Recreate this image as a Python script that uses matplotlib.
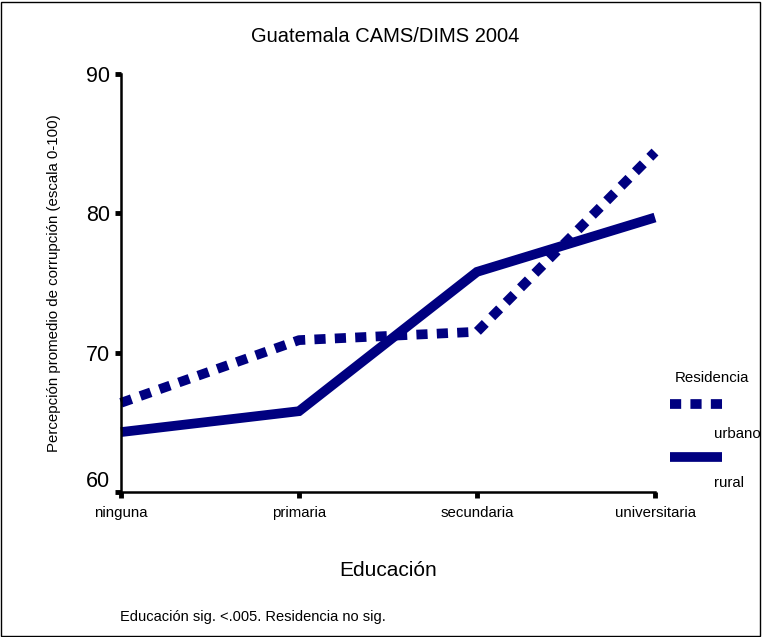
import matplotlib
matplotlib.use('Agg')
import matplotlib.pyplot as plt
from matplotlib.lines import Line2D
from matplotlib.patches import Rectangle

plt.rcParams['font.family'] = ['Liberation Sans', 'DejaVu Sans']

educacion = ['ninguna', 'primaria', 'secundaria', 'universitaria']
urbano = [66.4, 70.9, 71.5, 84.4]
rural = [64.3, 65.8, 75.8, 79.7]
yticks = [60, 70, 80, 90]

navy = '#000080'
W, H = 762, 637

fig = plt.figure(figsize=(W / 100, H / 100), dpi=100)
ax = fig.add_axes([121 / W, 1 - 492 / H, (655 - 121) / W, (492 - 74) / H])

x = list(range(len(educacion)))
dot = (0, (1.15, 0.95))
ax.plot(x, urbano, color=navy, lw=7, linestyle=dot, dash_capstyle='butt', solid_joinstyle='miter')
ax.plot(x, rural, color=navy, lw=7, solid_capstyle='butt', solid_joinstyle='miter')

ax.set_xlim(0, 3)
ax.set_ylim(60, 90)
ax.set_xticks(x)
ax.set_xticklabels(educacion, fontsize=10.8)
ax.set_yticks(yticks)
ax.set_yticklabels([str(v) for v in yticks], fontsize=15.5)
ax.tick_params(axis='both', direction='out', length=4, width=3.5, color='black')
ax.tick_params(axis='x', pad=6)
ax.tick_params(axis='y', pad=4)
ax.get_yticklabels()[0].set_va('bottom')
for s in ['top', 'right']:
    ax.spines[s].set_visible(False)
for s in ['left', 'bottom']:
    ax.spines[s].set_linewidth(1.8)
for ln in ax.lines:
    ln.set_clip_on(False)

ax.set_ylabel('Percepción promedio de corrupción (escala 0-100)', fontsize=10.8, labelpad=18)

fig.text(385 / W, 1 - 36 / H, 'Guatemala CAMS/DIMS 2004', ha='center', va='center', fontsize=14.5)
fig.text(388 / W, 1 - 571 / H, 'Educación', ha='center', va='center', fontsize=15)
fig.text(120 / W, 1 - 617 / H, 'Educación sig. <.005. Residencia no sig.', ha='left', va='center', fontsize=10.5)

# legend
fig.text(712 / W, 1 - 378 / H, 'Residencia', ha='center', va='center', fontsize=10.8)
fig.add_artist(Line2D([670 / W, 723 / W], [1 - 404 / H, 1 - 404 / H], transform=fig.transFigure,
                      color=navy, lw=7, linestyle=dot, dash_capstyle='butt'))
fig.text(737 / W, 1 - 434 / H, 'urbano', ha='center', va='center', fontsize=10.8)
fig.add_artist(Line2D([670 / W, 722 / W], [1 - 457 / H, 1 - 457 / H], transform=fig.transFigure,
                      color=navy, lw=7, solid_capstyle='butt'))
fig.text(729 / W, 1 - 483 / H, 'rural', ha='center', va='center', fontsize=10.8)

fig.add_artist(Rectangle((1 / W, 1 / H), (W - 3) / W, (H - 3) / H, transform=fig.transFigure,
                         fill=False, edgecolor='black', lw=1))

fig.savefig('out.png', dpi=100)
